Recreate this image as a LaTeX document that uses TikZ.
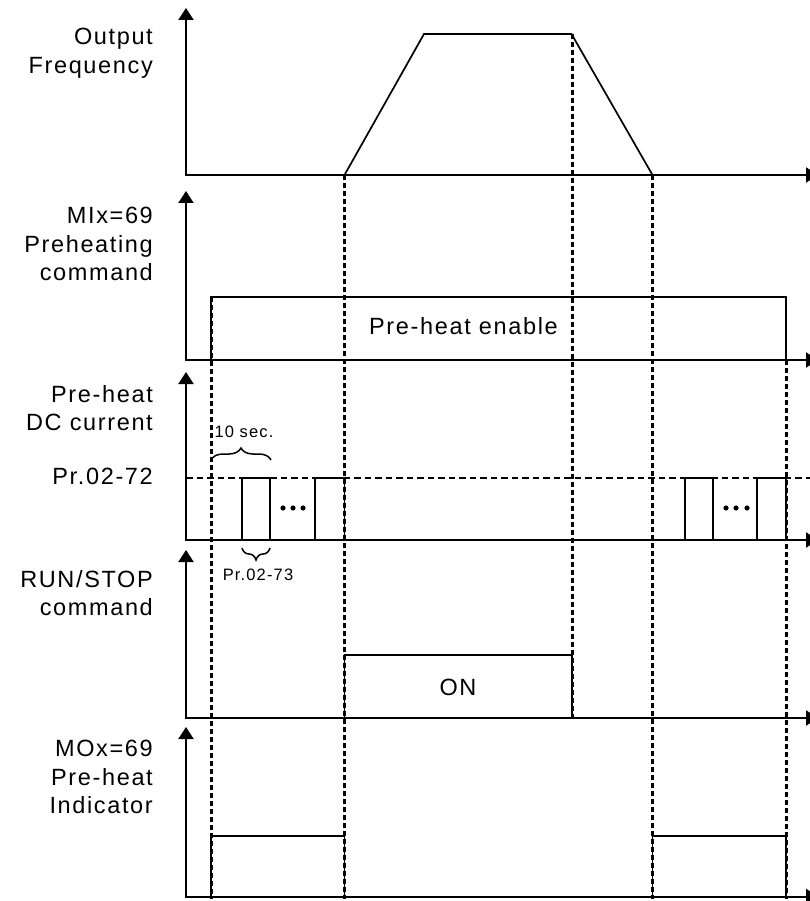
\documentclass[tikz,border=0pt]{standalone}
\usepackage{fontspec}
\setmainfont{Liberation Sans}[LetterSpace=7]
\usetikzlibrary{arrows.meta, decorations.pathreplacing}

\begin{document}
\begin{tikzpicture}[
    x=1pt, y=-1pt,
    lbl/.style={anchor=north east, align=right, inner sep=0pt,
                font=\fontsize{23.5}{28.5}\selectfont},
    big/.style={inner sep=0pt, font=\fontsize{23.5}{26}\selectfont},
    tag/.style={inner sep=0pt, font=\fontsize{16.5}{19}\selectfont},
    axis/.style={{Triangle[width=15pt,length=12pt]}-{Triangle[width=15pt,length=12pt]},
                 line width=2pt},
    wave/.style={line width=1.7pt},
    guide/.style={line width=3pt, dash pattern=on 5pt off 3pt},
    level/.style={line width=2.2pt, dash pattern=on 6.5pt off 4pt},
    brc/.style={decorate, decoration={brace, amplitude=12pt}, line width=1.5pt}
  ]
    \useasboundingbox (0,0) rectangle (810,901);

    % signal names
    \node[lbl] (freq) at (153,28)  {Output\\Frequency};
    \node[lbl] (mix)  at (153,207) {MIx=69\\Preheating\\command};
    \node[lbl] (dcc)  at (153,385) {Pre-heat\\DC current};
    \node[lbl] (pr72) at (153,468) {Pr.02-72};
    \node[lbl] (run)  at (153,570) {RUN/STOP\\command};
    \node[lbl] (mox)  at (153,740) {MOx=69\\Pre-heat\\Indicator};

    % axes
    \foreach \b/\t in {175/8, 360/191, 540/372, 718/550, 896.5/727}
        \draw[axis] (186,\t) -- (186,\b) -- (818,\b);

    % timing guides
    \draw[guide] (211,297)   -- (211,899);
    \draw[guide] (344.5,175) -- (344.5,899);
    \draw[guide] (572,34)    -- (572,718);
    \draw[guide] (652.5,175) -- (652.5,899);
    \draw[guide] (786,360)   -- (786,899);
    \draw[level] (186,478)   -- (812,478);

    % output frequency
    \draw[wave] (344.5,175) -- (424,34) -- (571.5,34) -- (652.5,175);

    % preheating command
    \draw[wave] (211,360) rectangle (786,297);
    \node[big] (enable) at (463.5,326.5) {Pre-heat enable};

    % DC current pulses
    \foreach \a/\b in {242/270, 315/344.5, 685/713, 757/786}
        \draw[wave] (\a,540) rectangle (\b,478);
    \foreach \x in {283,293,303,726,736,747}
        \fill (\x,508) circle (2.6pt);
    \draw[brc] (211,460) -- (271,460);
    \node[tag, anchor=base] (ten) at (244,437) {10 sec.};
    \draw[brc] (270,548) -- (242,548);
    \node[tag, anchor=north] (pr73) at (258,569) {Pr.02-73};

    % run/stop
    \draw[wave] (344.5,718) rectangle (572,655);
    \node[big] (on) at (458,687) {ON};

    % indicator
    \draw[wave] (211,896.5) rectangle (344.5,836);
    \draw[wave] (652.5,896.5) rectangle (786,836);
\end{tikzpicture}
\end{document}
